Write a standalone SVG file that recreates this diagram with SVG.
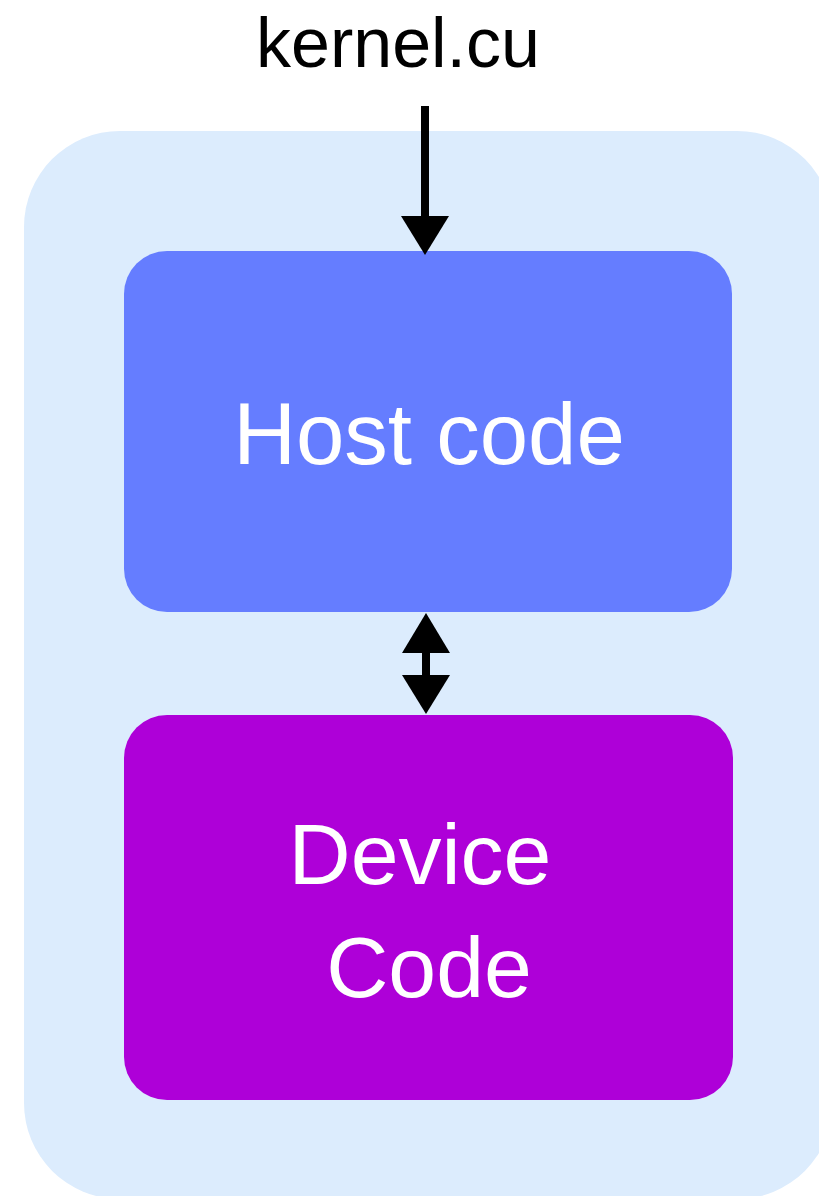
<svg xmlns="http://www.w3.org/2000/svg" width="819" height="1196" viewBox="0 0 819 1196">
  <style>
    .label { font-family: "Liberation Sans", Arial, sans-serif; text-anchor: middle; }
    .title { fill: #000000; font-size: 70px; }
    .box-text { fill: #ffffff; font-size: 86px; }
    .wire { stroke: #000000; stroke-width: 8; fill: none; }
    .head { fill: #000000; }
  </style>

  <!-- outer container -->
  <g id="container">
    <rect x="24" y="131" width="809" height="1068" rx="96" ry="96" fill="#dcecfd"/>
  </g>

  <!-- input file label -->
  <g id="kernel-file">
    <text class="label title" x="398" y="67">kernel.cu</text>
  </g>

  <g id="host-code">
    <rect x="124" y="251" width="608" height="361" rx="43" ry="43" fill="#657dff"/>
    <text class="label box-text" x="429" y="464" style="font-size:87px">Host code</text>
  </g>

  <g id="device-code">
    <rect x="124" y="715" width="609" height="385" rx="43" ry="43" fill="#ae00d8"/>
    <text class="label box-text" x="420" y="884">Device</text>
    <text class="label box-text" x="429" y="997">Code</text>
  </g>

  <g id="connectors">
    <!-- kernel.cu into host code -->
    <line class="wire" x1="425" y1="106" x2="425" y2="218"/>
    <polygon class="head" points="401,216 449,216 425,255"/>
    <!-- host <-> device -->
    <line class="wire" x1="426" y1="650" x2="426" y2="678"/>
    <polygon class="head" points="426,613 450,653 402,653"/>
    <polygon class="head" points="402,675 450,675 426,714"/>
  </g>
</svg>
